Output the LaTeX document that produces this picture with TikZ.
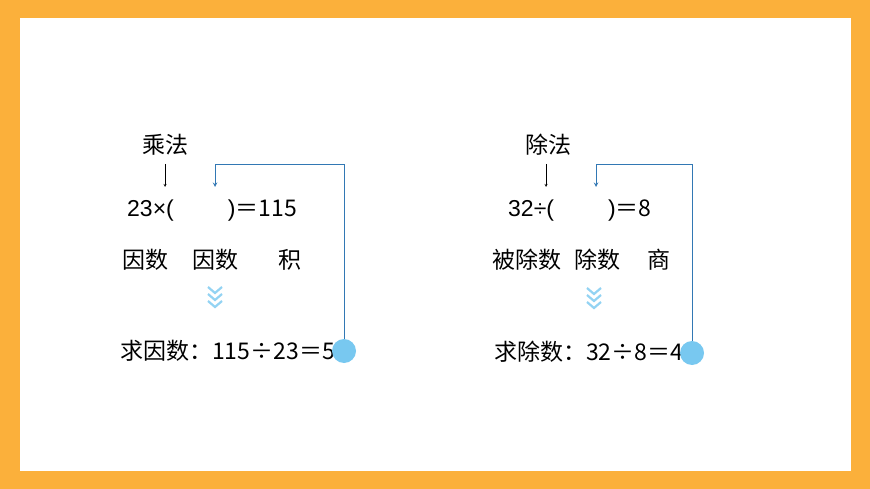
\documentclass[tikz,border=0pt]{standalone}
\usepackage{fontspec}
\setmainfont{Liberation Sans}
\newfontfamily\cjk{Noto Sans CJK SC}
\definecolor{frame}{RGB}{251,176,59}
\definecolor{dotc}{RGB}{120,200,240}
\definecolor{linkc}{RGB}{50,120,180}
\begin{document}
\begin{tikzpicture}[x=1pt,y=-1pt,
 txt/.style={inner sep=0pt,font=\fontsize{23}{23}\selectfont},
 link/.style={draw=linkc,line width=1pt},
 chev/.style={draw=dotc!80,line width=2.2pt},
 dot/.style={circle,fill=dotc,minimum size=24pt,inner sep=0pt}]
\useasboundingbox (0,0) rectangle (870,489);
\fill[frame] (0,0) rectangle (870,489);
\fill[white] (20,18) rectangle (851,471);
% left
\node[txt] (m) at (165,145) {\cjk 乘法};
\node[txt,anchor=west] (e1) at (127,211) {23×(\hspace{54pt})\cjk{＝}115};
\node[txt] (f1) at (145,260) {\cjk 因数};
\node[txt] (f2) at (215,260) {\cjk 因数};
\node[txt] (p) at (290,260) {\cjk 积};
\node[txt,anchor=west] (s1) at (120,351) {\cjk{求因数：}115÷23\cjk{＝}5};
\node[dot] (c1) at (344,351) {};
\coordinate (a1) at (165,187);
\draw[->,>=stealth] (165,164) -- (a1);
\coordinate (t1) at (215,187);
\draw[link,->,>=stealth] (c1.north) |- (215,165) -- (t1);
\foreach \y in {287,294,301}{\draw[chev] (208,\y) -- (215,\y+6) -- (222,\y);}
% right
\node[txt] (d) at (548,145) {\cjk 除法};
\node[txt,anchor=west] (e2) at (508,211) {32÷(\hspace{54pt})\cjk{＝}8};
\node[txt] (g1) at (527,260) {\cjk 被除数};
\node[txt] (g2) at (597,260) {\cjk 除数};
\node[txt] (q) at (659,260) {\cjk 商};
\node[txt,anchor=west] (s2) at (494,352) {\cjk{求除数：}32÷8\cjk{＝}4};
\node[dot] (c2) at (692,353) {};
\coordinate (a2) at (546,187);
\draw[->,>=stealth] (546,164) -- (a2);
\coordinate (t2) at (596,187);
\draw[link,->,>=stealth] (c2.north) |- (596,165) -- (t2);
\foreach \y in {288,295,302}{\draw[chev] (587,\y) -- (594,\y+6) -- (601,\y);}
\end{tikzpicture}
\end{document}
